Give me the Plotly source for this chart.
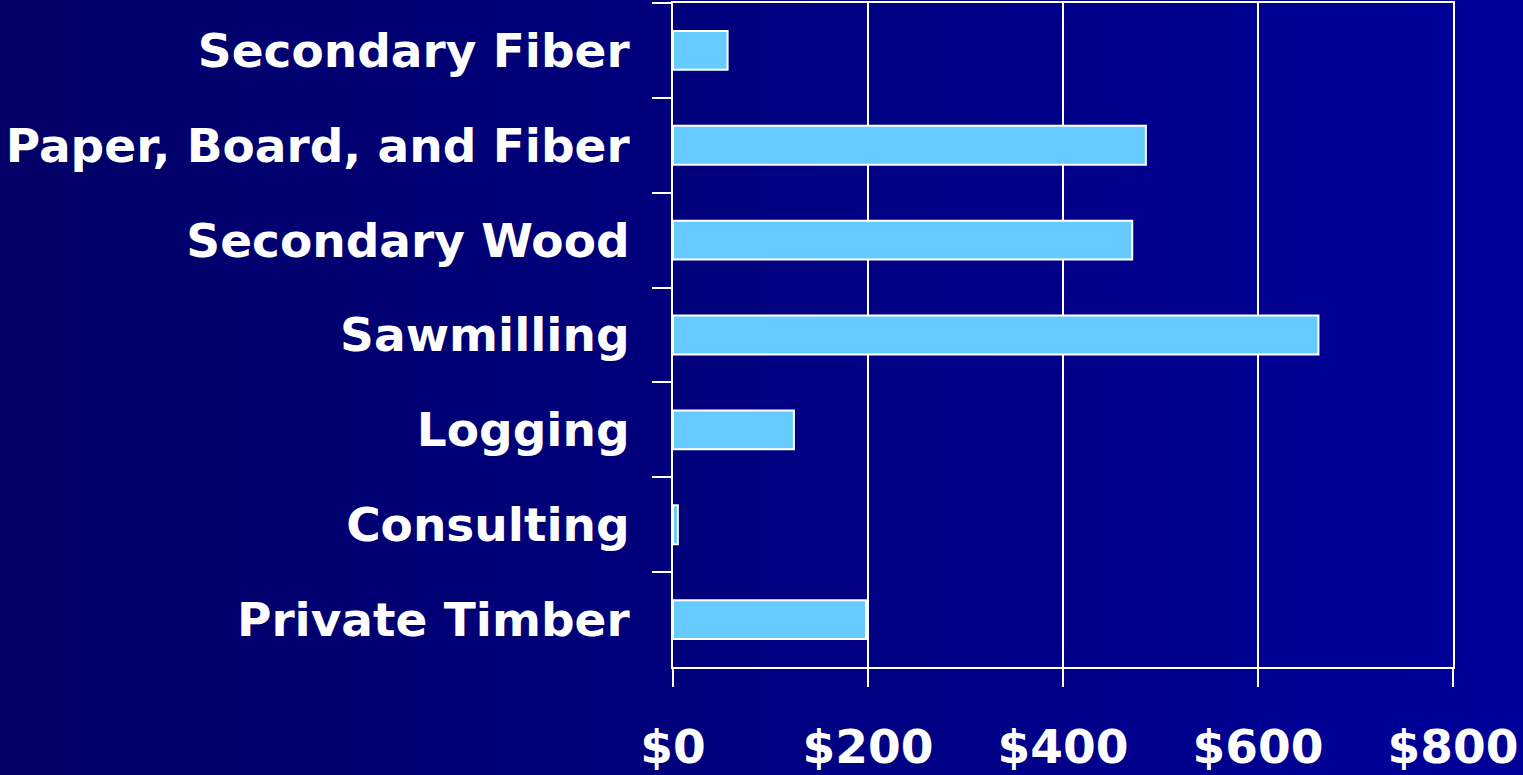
import plotly.graph_objects as go

# Industry output values, top to bottom
industries = [
    "Secondary Fiber",
    "Paper, Board, and Fiber",
    "Secondary Wood",
    "Sawmilling",
    "Logging",
    "Consulting",
    "Private Timber",
]
values = [56, 485, 471, 662, 124, 5, 198]
x_ticks = [0, 200, 400, 600, 800]
x_tick_labels = ["$0", "$200", "$400", "$600", "$800"]

BAR_COLOR = "#66CCFF"
WHITE = "#FFFFFF"
TICK_FONT = dict(family="DejaVu Sans", size=47, color=WHITE, weight="bold")

W, H = 1523, 775
MARGIN = dict(l=673, r=70, t=3, b=108)

fig = go.Figure(
    go.Bar(
        x=values,
        y=industries,
        orientation="h",
        marker=dict(color=BAR_COLOR, line=dict(color=WHITE, width=2)),
        width=0.41,
        hoverinfo="x+y",
    )
)

# horizontal background gradient (dark navy -> brighter blue), drawn as thin strips
plot_w = W - MARGIN["l"] - MARGIN["r"]
plot_h = H - MARGIN["t"] - MARGIN["b"]
steps = 52
shapes = []
for i in range(steps):
    p0 = W * i / steps
    p1 = W * (i + 1) / steps + 1
    b = int(round(102 + 51 * i / (steps - 1)))
    shapes.append(
        dict(
            type="rect",
            xref="paper",
            yref="paper",
            x0=(p0 - MARGIN["l"]) / plot_w,
            x1=(p1 - MARGIN["l"]) / plot_w,
            y0=-MARGIN["b"] / plot_h - 0.01,
            y1=1 + MARGIN["t"] / plot_h + 0.01,
            fillcolor=f"rgb(0,0,{b})",
            line=dict(width=0),
            layer="below",
        )
    )

fig.update_layout(
    width=W,
    height=H,
    margin=MARGIN,
    paper_bgcolor="#000066",
    plot_bgcolor="rgba(0,0,0,0)",
    shapes=shapes,
    showlegend=False,
    xaxis=dict(
        range=[0, 800],
        tickvals=x_ticks,
        ticktext=x_tick_labels,
        tickfont=TICK_FONT,
        ticks="outside",
        ticklen=18,
        tickwidth=2,
        tickcolor=WHITE,
        showgrid=True,
        gridcolor=WHITE,
        gridwidth=2,
        showline=True,
        linecolor=WHITE,
        linewidth=2,
        mirror=True,
        zeroline=False,
        ticklabelstandoff=20,
        automargin=False,
        fixedrange=True,
    ),
    yaxis=dict(
        categoryorder="array",
        categoryarray=industries,
        autorange="reversed",
        tickfont=TICK_FONT,
        ticks="outside",
        tickson="boundaries",
        ticklen=19,
        tickwidth=2,
        tickcolor=WHITE,
        showgrid=False,
        showline=True,
        linecolor=WHITE,
        linewidth=2,
        mirror=True,
        ticklabelstandoff=32,
        automargin=False,
        fixedrange=True,
    ),
)

fig.write_html(
    "out.html",
    config={"displayModeBar": False},
    post_script="document.body.style.margin='0';document.body.style.overflow='hidden';",
)
